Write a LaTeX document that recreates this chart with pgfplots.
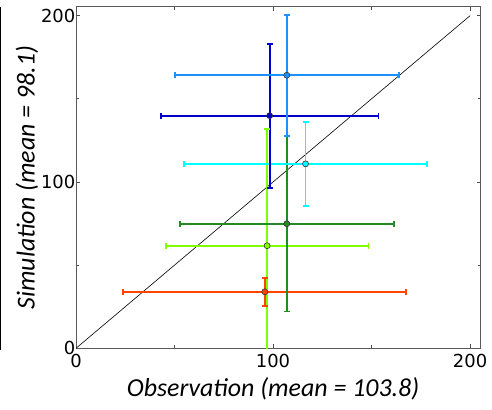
\documentclass[border=0pt]{standalone}
\usepackage{pgfplots}
\pgfplotsset{compat=1.18}
\usepackage{fontspec}
\setmainfont{DejaVu Sans}
\newfontfamily\labelfont{Carlito}

\definecolor{cRed}{RGB}{255,69,0}
\definecolor{cLime}{RGB}{127,255,0}
\definecolor{cGreen}{RGB}{34,139,34}
\definecolor{cCyan}{RGB}{0,255,255}
\definecolor{cNavy}{RGB}{0,0,205}
\definecolor{cSky}{RGB}{30,144,255}

\pgfplotsset{
  % spread of a group in both directions
  errbar/.style={
    draw=#1, color=#1, solid, line width=1.8bp, mark=none,
    error bars/.cd,
      x dir=both, x explicit, y dir=both, y explicit,
      error mark=none,
      error bar style={solid, draw=#1, line width=1.8bp},
  },
  % end caps of the bars
  hcap/.style={only marks, mark=-, mark size=3bp,
    mark options={solid, draw=#1, line width=1.8bp}},
  vcap/.style={only marks, mark=|, mark size=3bp,
    mark options={solid, draw=#1, line width=1.8bp}},
  % circle marker with dark rim
  dot/.style={
    only marks, mark=*, mark size=3bp,
    mark options={solid, fill=#1, draw=black!80, line width=0.6bp},
  },
}

\begin{document}
\begin{tikzpicture}[x=1bp,y=1bp]
\begin{axis}[
  at={(0,0)}, anchor=south west,
  scale only axis, width=404.7bp, height=341.6bp,
  xmin=0, xmax=205.4, ymin=0, ymax=205.4,
  xtick={0,100,200}, ytick={0,100,200},
  minor xtick={50,150}, minor ytick={50,150},
  tick align=inside,
  major tick length=4bp, minor tick length=3bp,
  tick style={black!70, line width=0.7bp},
  axis line style={black!65, line width=0.9bp},
  /pgf/number format/assume math mode=true,
  ticklabel style={font=\fontsize{18}{18}\selectfont, inner sep=0pt},
  xticklabel style={anchor=north, yshift=-6bp},
  yticklabel style={anchor=east, xshift=-0.5bp},
  xlabel={\labelfont\itshape Observation (mean = 103.8)},
  ylabel={\labelfont\itshape Simulation (mean = 98.1)},
  xlabel style={at={(axis description cs:0.487,-0.12)}, anchor=center,
    font=\fontsize{26}{26}\selectfont, inner sep=0pt},
  ylabel style={at={(axis description cs:-0.121,0.5)}, anchor=center,
    font=\fontsize{26}{26}\selectfont, inner sep=0pt},
]
% 1:1 reference line
\addplot[black, line width=0.6bp, no marks] coordinates {(0,0) (200,200)};

% group means with their spread: mean (x,y) +- (sd x, sd y)
\addplot[errbar=cRed]   coordinates {(95.8,34.0)   +- (71.8,8.5)};
\addplot[hcap=cRed]     coordinates {(95.8,42.5) (95.8,25.5)};
\addplot[vcap=cRed]     coordinates {(24.0,34.0) (167.6,34.0)};
\addplot[dot=cRed]      coordinates {(95.8,34.0)};

\addplot[errbar=cLime]  coordinates {(97.0,61.7)   +- (51.5,70.2)};
\addplot[hcap=cLime]    coordinates {(97.0,131.9)};
\addplot[vcap=cLime]    coordinates {(45.5,61.7) (148.5,61.7)};
\addplot[dot=cLime]     coordinates {(97.0,61.7)};

\addplot[errbar=cGreen] coordinates {(107.0,74.9)  +- (54.2,52.8)};
\addplot[hcap=cGreen]   coordinates {(107.0,127.7) (107.0,22.1)};
\addplot[vcap=cGreen]   coordinates {(52.8,74.9) (161.2,74.9)};
\addplot[dot=cGreen]    coordinates {(107.0,74.9)};

\addplot[errbar=cCyan]  coordinates {(116.5,110.9) +- (61.8,25.2)};
\addplot[hcap=cCyan]    coordinates {(116.5,136.1) (116.5,85.7)};
\addplot[vcap=cCyan]    coordinates {(54.7,110.9) (178.3,110.9)};
\addplot[dot=cCyan]     coordinates {(116.5,110.9)};

\addplot[errbar=cNavy]  coordinates {(98.3,139.9)  +- (55.2,43.3)};
\addplot[hcap=cNavy]    coordinates {(98.3,183.2) (98.3,96.6)};
\addplot[vcap=cNavy]    coordinates {(43.1,139.9) (153.5,139.9)};
\addplot[dot=cNavy]     coordinates {(98.3,139.9)};

\addplot[errbar=cSky]   coordinates {(107.0,164.2) +- (56.9,36.4)};
\addplot[hcap=cSky]     coordinates {(107.0,200.6) (107.0,127.8)};
\addplot[vcap=cSky]     coordinates {(50.1,164.2) (163.9,164.2)};
\addplot[dot=cSky]      coordinates {(107.0,164.2)};
\end{axis}
\draw[black, line width=1bp] (-75bp,-1.7bp) -- (-75bp,341.3bp);
\pgfresetboundingbox
\path (-76bp,-61.7bp) rectangle (416bp,348.3bp);
\end{tikzpicture}
\end{document}
